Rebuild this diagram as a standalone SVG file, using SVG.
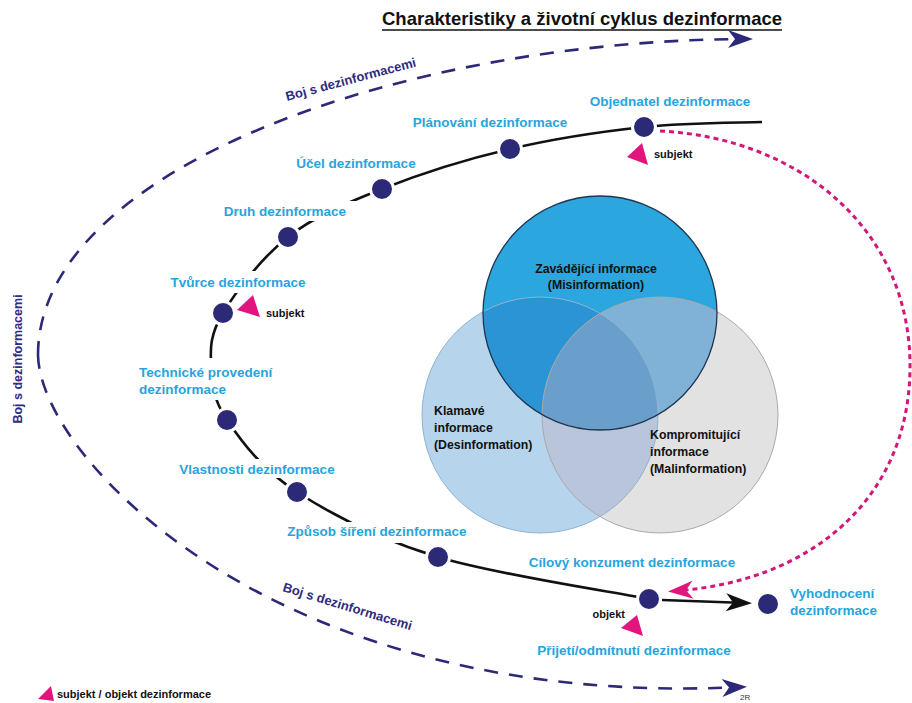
<svg xmlns="http://www.w3.org/2000/svg" width="912" height="703" viewBox="0 0 912 703">
  <style>
    text { font-family: "Liberation Sans", Arial, sans-serif; font-weight: bold; }
    .title { font-size: 18.5px; fill: #111; }
    .lbl { font-size: 13.5px; fill: #27a4dc; }
    .venn { font-size: 12.3px; fill: #111; }
    .boj { font-size: 13px; fill: #2f2b7e; }
    .small { font-size: 11px; fill: #111; }
    .node { fill: #2c2977; stroke: #fff; stroke-width: 3; }
    .mark { fill: #e2157f; }
    .fight { fill: none; stroke: #2c2977; stroke-width: 2.6; stroke-dasharray: 14 11; }
    .cycle { fill: none; stroke: #111; stroke-width: 2.6; }
    .feedback { fill: none; stroke: #d4157a; stroke-width: 3; stroke-dasharray: 5 4; }
  </style>
  <defs>
    <marker id="arrowNavy" markerUnits="userSpaceOnUse" markerWidth="32" markerHeight="24" viewBox="-22 -12 32 24" refX="0" refY="0" orient="auto">
      <path d="M6,0 L-19,-9 L-12,0 L-19,9 Z" fill="#2c2977"/>
    </marker>
    <marker id="arrowBlack" markerUnits="userSpaceOnUse" markerWidth="32" markerHeight="24" viewBox="-22 -12 32 24" refX="0" refY="0" orient="auto">
      <path d="M6,0 L-20,-9 L-13,0 L-20,9 Z" fill="#111"/>
    </marker>
    <marker id="arrowPink" markerUnits="userSpaceOnUse" markerWidth="32" markerHeight="24" viewBox="-22 -12 32 24" refX="0" refY="0" orient="auto">
      <path d="M6,0 L-19,-9 L-12,0 L-19,9 Z" fill="#e2157f"/>
    </marker>
    <mask id="labelGaps" maskUnits="userSpaceOnUse" x="0" y="0" width="912" height="703">
      <rect width="912" height="703" fill="#fff"/>
      <rect x="218" y="201" width="138" height="20" fill="#000"/>
      <rect x="169" y="271" width="139" height="22" fill="#000"/>
      <rect x="136" y="358" width="139" height="42" fill="#000"/>
      <rect x="177" y="459" width="159" height="19" fill="#000"/>
      <rect x="285" y="522" width="185" height="21" fill="#000"/>
    </mask>
    <clipPath id="clipTop"><circle cx="600" cy="313" r="117"/></clipPath>
    <clipPath id="clipLeft"><circle cx="540" cy="415" r="118"/></clipPath>
    <clipPath id="clipRight"><circle cx="660" cy="415" r="118"/></clipPath>
  </defs>

  <rect width="912" height="703" fill="#fff"/>

  <!-- heading -->
  <g id="title">
    <text class="title" x="382" y="25" textLength="400" lengthAdjust="spacingAndGlyphs">Charakteristiky a životní cyklus dezinformace</text>
    <line x1="382" y1="30" x2="782" y2="30" stroke="#111" stroke-width="1.6"/>
  </g>

  <!-- Venn diagram of information types -->
  <g id="venn">
    <circle cx="540" cy="415" r="118" fill="#b6d4ec"/>
    <circle cx="660" cy="415" r="118" fill="#e2e2e2"/>
    <g clip-path="url(#clipRight)"><circle cx="540" cy="415" r="118" fill="#b9c5da"/></g>
    <circle cx="600" cy="313" r="117" fill="#2ba6de"/>
    <g clip-path="url(#clipTop)">
      <circle cx="540" cy="415" r="118" fill="#2a94d4"/>
      <circle cx="660" cy="415" r="118" fill="#80b2d8"/>
      <g clip-path="url(#clipLeft)"><circle cx="660" cy="415" r="118" fill="#6a9fcb"/></g>
    </g>
    <circle cx="540" cy="415" r="118" fill="none" stroke="#8fb3d2" stroke-width="1"/>
    <circle cx="660" cy="415" r="118" fill="none" stroke="#a9a9a9" stroke-width="1"/>
    <circle cx="600" cy="313" r="117" fill="none" stroke="#1f3550" stroke-width="1.3"/>
    <g id="misinformation">
      <text class="venn" x="596" y="273" text-anchor="middle">Zavádějící informace</text>
      <text class="venn" x="596" y="289" text-anchor="middle">(Misinformation)</text>
    </g>
    <g id="desinformation">
      <text class="venn" x="434" y="415">Klamavé</text>
      <text class="venn" x="434" y="432">informace</text>
      <text class="venn" x="434" y="449">(Desinformation)</text>
    </g>
    <g id="malinformation">
      <text class="venn" x="650" y="439">Kompromitující</text>
      <text class="venn" x="650" y="456">informace</text>
      <text class="venn" x="650" y="473">(Malinformation)</text>
    </g>
  </g>

  <!-- connectors -->
  <g id="connectors">
    <path class="fight" d="M38,355 C38,170 400,40 747,39" marker-end="url(#arrowNavy)"/>
    <path class="fight" d="M38,355 C40,460 280,710 741,687" marker-end="url(#arrowNavy)"/>
    <path class="cycle" mask="url(#labelGaps)" d="M762,122 C742.3,122.8 686,122.5 644,127 C602,131.5 553.7,138.7 510,149 C466.3,159.3 419,174.3 382,189 C345,203.7 314.5,216.3 288,237 C261.5,257.7 235.8,291.7 223,313 C210.2,334.3 210.3,347.2 211,365 C211.7,382.8 212.7,398.8 227,420 C241.3,441.2 261.8,469.2 297,492 C332.2,514.8 379.3,539.2 438,557 C496.7,574.8 613.8,592 649,599"/>
    <path class="cycle" d="M662,600 L746,603" marker-end="url(#arrowBlack)"/>
    <path class="feedback" d="M660,131 C800,138 912,230 910,370 C908,500 810,582 674,591" marker-end="url(#arrowPink)"/>
  </g>

  <!-- "Boj s dezinformacemi" captions -->
  <g id="fight-labels">
    <text class="boj" transform="translate(287,101) rotate(-15)">Boj s dezinformacemi</text>
    <text class="boj" transform="translate(22,359) rotate(-90)" text-anchor="middle" style="font-size:12.5px">Boj s dezinformacemi</text>
    <text class="boj" transform="translate(282,591) rotate(17)">Boj s dezinformacemi</text>
  </g>

  <!-- lifecycle stages -->
  <g id="objednatel">
    <circle class="node" cx="644" cy="127" r="11.5"/>
    <text class="lbl" x="670" y="106" text-anchor="middle">Objednatel dezinformace</text>
    <polygon class="mark" points="627,157 642,143 648,165"/>
    <text class="small" x="654" y="158">subjekt</text>
  </g>
  <g id="planovani">
    <circle class="node" cx="510" cy="149" r="11.5"/>
    <text class="lbl" x="490" y="127" text-anchor="middle">Plánování dezinformace</text>
  </g>
  <g id="ucel">
    <circle class="node" cx="382" cy="189" r="11.5"/>
    <text class="lbl" x="356" y="168" text-anchor="middle">Účel dezinformace</text>
  </g>
  <g id="druh">
    <circle class="node" cx="288" cy="237" r="11.5"/>
    <text class="lbl" x="285" y="216" text-anchor="middle">Druh dezinformace</text>
  </g>
  <g id="tvurce">
    <circle class="node" cx="223" cy="313" r="11.5"/>
    <text class="lbl" x="238" y="287" text-anchor="middle">Tvůrce dezinformace</text>
    <polygon class="mark" points="237,310 253,295 260,317"/>
    <text class="small" x="266" y="317">subjekt</text>
  </g>
  <g id="technicke">
    <circle class="node" cx="227" cy="420" r="11.5"/>
    <text class="lbl" x="139" y="377">Technické provedení</text>
    <text class="lbl" x="139" y="394">dezinformace</text>
  </g>
  <g id="vlastnosti">
    <circle class="node" cx="297" cy="492" r="11.5"/>
    <text class="lbl" x="257" y="474" text-anchor="middle">Vlastnosti dezinformace</text>
  </g>
  <g id="zpusob">
    <circle class="node" cx="438" cy="557" r="11.5"/>
    <text class="lbl" x="377" y="536" text-anchor="middle">Způsob šíření dezinformace</text>
  </g>
  <g id="cilovy">
    <circle class="node" cx="649" cy="599" r="11.5"/>
    <text class="lbl" x="632" y="567" text-anchor="middle">Cílový konzument dezinformace</text>
    <polygon class="mark" points="621,628 637,615 643,636"/>
    <text class="small" x="625" y="618" text-anchor="end">objekt</text>
    <text class="lbl" x="634" y="655" text-anchor="middle">Přijetí/odmítnutí dezinformace</text>
  </g>
  <g id="vyhodnoceni">
    <circle class="node" cx="768" cy="604" r="11.5"/>
    <text class="lbl" x="790" y="598">Vyhodnocení</text>
    <text class="lbl" x="790" y="615">dezinformace</text>
  </g>

  <!-- legend -->
  <g id="legend">
    <polygon class="mark" points="38,699 51,686 54,701"/>
    <text class="small" x="57" y="698">subjekt / objekt dezinformace</text>
    <text x="740" y="700" style="font-size:8px;font-weight:normal;fill:#333">2R</text>
  </g>
</svg>
